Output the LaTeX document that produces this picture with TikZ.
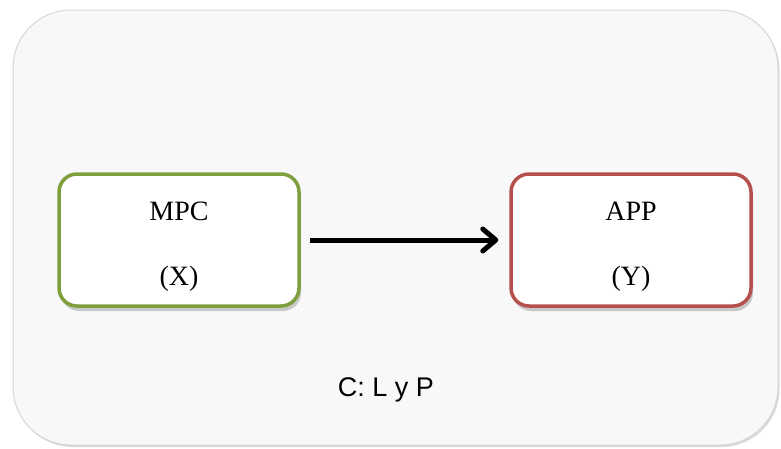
\documentclass[tikz,border=0pt]{standalone}
\usepackage{fontspec}
\setmainfont{Liberation Serif}
\newfontfamily\sansfont{Liberation Sans}
\usepackage{tikz}
\usetikzlibrary{positioning,shapes,arrows.meta,calc,shadows}
\definecolor{panelgray}{HTML}{F8F8F8}
\definecolor{paneledge}{HTML}{D6D6D6}
\definecolor{mpcgreen}{HTML}{7F9F3C}
\definecolor{appred}{HTML}{B5504D}

\begin{document}
\begin{tikzpicture}[
  x=1pt, y=-1pt,
  varbox/.style={
    shape=rectangle,
    rounded corners=18pt,
    line width=3.5pt,
    fill=white,
    minimum width=240pt,
    minimum height=132pt,
    drop shadow={shadow xshift=2pt, shadow yshift=-5pt, opacity=0.4},
  },
  vartext/.style={
    anchor=base,
    font=\fontsize{28}{30}\selectfont,
  },
  link/.style={
    line width=5pt,
    -{Straight Barb[length=13pt,width=22pt,line width=5pt,round]},
    shorten <=9pt,
    shorten >=11pt,
  }]
  \useasboundingbox (0,0) rectangle (781,448);
  \clip (0,0) rectangle (781,448);
  % panel
  \draw[rounded corners=58pt, fill=panelgray, draw=paneledge, line width=1pt,
    drop shadow={shadow xshift=1.5pt, shadow yshift=-2pt, opacity=0.3}]
    (13,10) rectangle (778,445);
  % boxes
  \node[varbox, draw=mpcgreen] (mpc) at (179,240) {};
  \node[varbox, draw=appred] (app) at (631,240) {};
  \node[vartext] (mpcname) at (179,220) {MPC};
  \node[vartext] (mpcvar) at (179,285) {(X)};
  \node[vartext] (appname) at (631,220) {APP};
  \node[vartext] (appvar) at (631,285) {(Y)};
  \draw[link] (mpc) -- (app);
  % condition
  \node[anchor=base, font=\sansfont\fontsize{27}{30}\selectfont] (cond) at (386,396) {C: L y P};
\end{tikzpicture}
\end{document}
